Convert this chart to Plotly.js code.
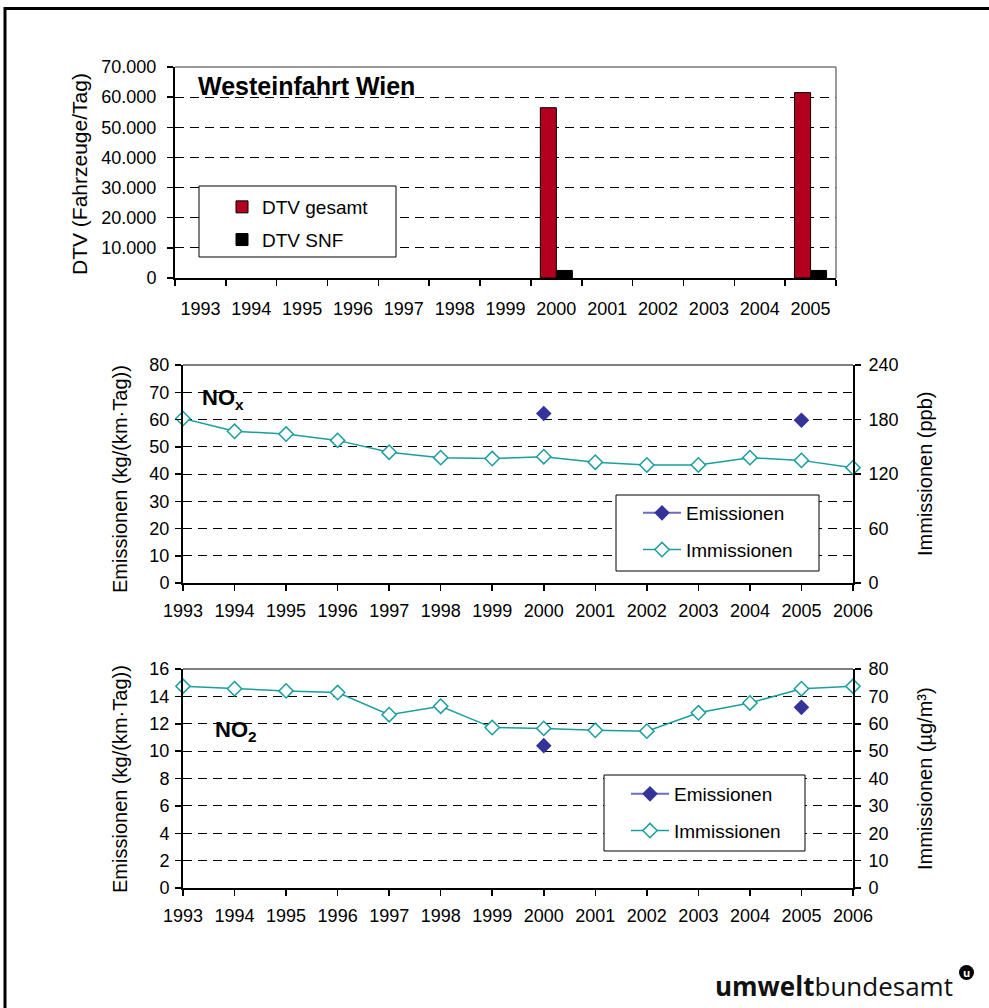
<!DOCTYPE html>
<html><head><meta charset="utf-8">
<script src="https://cdn.plot.ly/plotly-3.0.1.min.js"></script>
<style>html,body{margin:0;padding:0;background:#fff;overflow:hidden}</style>
</head><body><div id="chart" style="width:989px;height:1008px"></div>
<script>
// ---- data ----
const dtvYears = ['1993','1994','1995','1996','1997','1998','1999','2000','2001','2002','2003','2004','2005'];
const dtvGesamt = [null,null,null,null,null,null,null,56500,null,null,null,null,61500];
const dtvSnf    = [null,null,null,null,null,null,null,2500,null,null,null,null,2500];
const years = [1993,1994,1995,1996,1997,1998,1999,2000,2001,2002,2003,2004,2005,2006];
const noxEmissionen  = [null,null,null,null,null,null,null,62.2,null,null,null,null,59.7,null];
const noxImmissionen = [181,167,164,157,144,138,137,139,133,130,130,138,135,127];
const no2Emissionen  = [null,null,null,null,null,null,null,10.4,null,null,null,null,13.2,null];
const no2Immissionen = [73.7,72.8,72.0,71.4,63.3,66.4,58.6,58.3,57.6,57.3,64.0,67.6,72.8,73.7];

// ---- helpers (pixel -> paper) ----
const W = 989, H = 1008;
const px = v => v / W;
const py = v => 1 - v / H;
const FONT = 'Arial, "Liberation Sans", sans-serif';
const teal = '#1a9e9e';
const navy = '#333399';

const traces = [
  {type:'bar', x:dtvYears, y:dtvGesamt, name:'DTV gesamt', xaxis:'x', yaxis:'y',
   marker:{color:'#b3001e', line:{color:'#000', width:1}}, legend:'legend', legendgroup:'a'},
  {type:'bar', x:dtvYears, y:dtvSnf, name:'DTV SNF', xaxis:'x', yaxis:'y',
   marker:{color:'#000', line:{color:'#000', width:1}}, legend:'legend', legendgroup:'b'},

  {type:'scatter', mode:'lines+markers', x:years, y:noxEmissionen, name:'Emissionen', xaxis:'x2', yaxis:'y2',
   line:{color:'#6b6bc8', width:2}, marker:{symbol:'diamond', size:12, color:navy}, cliponaxis:false,
   legend:'legend2', legendgroup:'c'},
  {type:'scatter', mode:'lines+markers', x:years, y:noxImmissionen, name:'Immissionen', xaxis:'x2', yaxis:'y3',
   line:{color:teal, width:1.5}, marker:{symbol:'diamond', size:11, color:'#fff', line:{color:teal, width:1.5}},
   cliponaxis:false, legend:'legend2', legendgroup:'d'},

  {type:'scatter', mode:'lines+markers', x:years, y:no2Emissionen, name:'Emissionen', xaxis:'x3', yaxis:'y4',
   line:{color:'#6b6bc8', width:2}, marker:{symbol:'diamond', size:12, color:navy}, cliponaxis:false,
   legend:'legend3', legendgroup:'e'},
  {type:'scatter', mode:'lines+markers', x:years, y:no2Immissionen, name:'Immissionen', xaxis:'x3', yaxis:'y5',
   line:{color:teal, width:1.5}, marker:{symbol:'diamond', size:11, color:'#fff', line:{color:teal, width:1.5}},
   cliponaxis:false, legend:'legend3', legendgroup:'f'}
];

const tickfont = {family:FONT, size:18, color:'#000'};
const baseY = {showline:true, linecolor:'#000', linewidth:2, ticks:'outside', ticklen:6, tickwidth:1.5, tickcolor:'#000',
  tickfont:tickfont, showgrid:true, gridcolor:'#000', gridwidth:1, griddash:'9px,6px', zeroline:false, fixedrange:true};
const baseX = {showline:true, linecolor:'#000', linewidth:2, ticks:'outside', ticklen:6, tickwidth:1.5, tickcolor:'#000',
  tickfont:tickfont, showgrid:false, zeroline:false, fixedrange:true, tickangle:0};
const rightY = {showline:true, linecolor:'#000', linewidth:2, ticks:'outside', ticklen:6, tickwidth:1.5, tickcolor:'#000',
  tickfont:tickfont, showgrid:false, zeroline:false, side:'right', fixedrange:true, ticklabelstandoff:4};

const legendBase = {bgcolor:'rgba(0,0,0,0)', borderwidth:0, font:{family:FONT, size:19, color:'#000'},
  xanchor:'left', yanchor:'top', traceorder:'grouped', tracegroupgap:6};

const titleFont = {family:FONT, size:20, color:'#000'};

const layout = {
  width:W, height:H, margin:{l:0,r:0,t:0,b:0}, paper_bgcolor:'#fff', plot_bgcolor:'rgba(0,0,0,0)',
  separators:',.', hovermode:false, font:{family:FONT, size:19, color:'#000'},
  barmode:'group', bargap:0.37, bargroupgap:0,
  xaxis: Object.assign({}, baseX, {domain:[px(175), px(836)], anchor:'y', type:'category', tickson:'boundaries', ticklabelstandoff:13}),
  yaxis: Object.assign({}, baseY, {domain:[py(278), py(67)], anchor:'x', range:[0,70000], dtick:10000, tickformat:',.0f', ticklabelstandoff:7}),
  xaxis2: Object.assign({}, baseX, {domain:[px(183), px(853)], anchor:'y2', range:[1993,2006], dtick:1, tick0:1993, tickformat:'d', ticklabelstandoff:4}),
  yaxis2: Object.assign({}, baseY, {domain:[py(583), py(365)], anchor:'x2', range:[0,80], dtick:10, ticklabelstandoff:2}),
  yaxis3: Object.assign({}, rightY, {overlaying:'y2', anchor:'x2', range:[0,240], dtick:60}),
  xaxis3: Object.assign({}, baseX, {domain:[px(183), px(853)], anchor:'y4', range:[1993,2006], dtick:1, tick0:1993, tickformat:'d', ticklabelstandoff:4}),
  yaxis4: Object.assign({}, baseY, {domain:[py(888), py(669)], anchor:'x3', range:[0,16], dtick:2, ticklabelstandoff:2}),
  yaxis5: Object.assign({}, rightY, {overlaying:'y4', anchor:'x3', range:[0,80], dtick:10}),
  legend: Object.assign({}, legendBase, {x:px(222), y:py(188), itemwidth:30, tracegroupgap:5}),
  legend2: Object.assign({}, legendBase, {x:px(638), y:py(494), itemwidth:38, tracegroupgap:9}),
  legend3: Object.assign({}, legendBase, {x:px(626), y:py(775), itemwidth:38, tracegroupgap:9}),
  shapes: [
    // outer frame
    {type:'rect', xref:'paper', yref:'paper', x0:px(5), y0:-0.05, x1:1.05, y1:py(8.5), line:{color:'#000', width:3}, layer:'below'},
    // panel borders (top / right in grey)
    {type:'line', xref:'paper', yref:'paper', x0:px(175), x1:px(836), y0:py(67), y1:py(67), line:{color:'#777', width:1.5}},
    {type:'line', xref:'paper', yref:'paper', x0:px(836), x1:px(836), y0:py(67), y1:py(278), line:{color:'#777', width:1.5}},
    {type:'line', xref:'paper', yref:'paper', x0:px(183), x1:px(853), y0:py(365), y1:py(365), line:{color:'#555', width:1.5}},
    {type:'line', xref:'paper', yref:'paper', x0:px(183), x1:px(853), y0:py(669), y1:py(669), line:{color:'#555', width:1.5}},
    // legend boxes
    {type:'rect', xref:'paper', yref:'paper', x0:px(199), x1:px(396), y0:py(257), y1:py(186), line:{color:'#000', width:1}, fillcolor:'#fff', layer:'above'},
    {type:'rect', xref:'paper', yref:'paper', x0:px(616), x1:px(819), y0:py(571), y1:py(495), line:{color:'#000', width:1}, fillcolor:'#fff', layer:'above'},
    {type:'rect', xref:'paper', yref:'paper', x0:px(604), x1:px(805), y0:py(851), y1:py(775), line:{color:'#000', width:1}, fillcolor:'#fff', layer:'above'},
    // logo dot
    {type:'circle', xref:'paper', yref:'paper', x0:px(959), x1:px(974), y0:py(980), y1:py(965), fillcolor:'#000', line:{width:0}}
  ],
  annotations: [
    {text:'<b>Westeinfahrt Wien</b>', xref:'paper', yref:'paper', x:px(196), y:py(86), xanchor:'left', yanchor:'middle', showarrow:false,
     font:{family:FONT, size:25, color:'#000'}},
    {text:'<b>NO<sub>x</sub></b>', xref:'paper', yref:'paper', x:px(200), y:py(399), xanchor:'left', yanchor:'middle', showarrow:false,
     font:{family:FONT, size:22, color:'#000'}},
    {text:'<b>NO<sub>2</sub></b>', xref:'paper', yref:'paper', x:px(213), y:py(731), xanchor:'left', yanchor:'middle', showarrow:false,
     font:{family:FONT, size:22, color:'#000'}},
    {text:'DTV (Fahrzeuge/Tag)', xref:'paper', yref:'paper', x:px(79), y:py(174), textangle:-90, showarrow:false,
     xanchor:'center', yanchor:'middle', font:{family:FONT, size:21, color:'#000'}},
    {text:'Emissionen (kg/(km·Tag))', xref:'paper', yref:'paper', x:px(120), y:py(479), textangle:-90, showarrow:false,
     xanchor:'center', yanchor:'middle', font:titleFont},
    {text:'Immissionen (ppb)', xref:'paper', yref:'paper', x:px(925), y:py(474), textangle:-90, showarrow:false,
     xanchor:'center', yanchor:'middle', font:titleFont},
    {text:'Emissionen (kg/(km·Tag))', xref:'paper', yref:'paper', x:px(120), y:py(779), textangle:-90, showarrow:false,
     xanchor:'center', yanchor:'middle', font:titleFont},
    {text:'Immissionen (µg/m³)', xref:'paper', yref:'paper', x:px(925), y:py(779), textangle:-90, showarrow:false,
     xanchor:'center', yanchor:'middle', font:titleFont},
    {text:'<b>umwelt</b>bundesamt', xref:'paper', yref:'paper', x:px(955), y:py(986), xanchor:'right', yanchor:'middle', showarrow:false,
     font:{family:'"Open Sans", "Noto Sans", sans-serif', size:26, color:'#111'}},
    {text:'<b>u</b>', xref:'paper', yref:'paper', x:px(966.5), y:py(972.5), xanchor:'center', yanchor:'middle', showarrow:false,
     font:{family:'"Open Sans", sans-serif', size:11, color:'#fff'}}
  ]
};

Plotly.newPlot('chart', traces, layout, {staticPlot:true, displayModeBar:false});
</script>
</body></html>
